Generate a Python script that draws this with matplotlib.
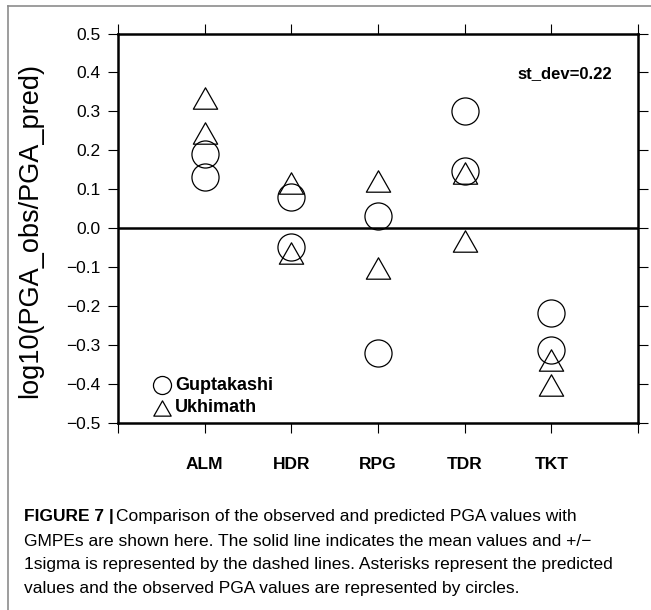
import numpy as np
import matplotlib.pyplot as plt
from matplotlib.path import Path
from matplotlib.lines import Line2D

W, H = 651, 610
DPI = 100

stations = ['ALM', 'HDR', 'RPG', 'TDR', 'TKT']
# log10(PGA_obs/PGA_pred), two events per station
gupta = [[0.191, 0.131], [0.081, -0.047], [0.032, -0.320], [0.302, 0.146], [-0.218, -0.312]]
ukhi = [[0.334, 0.244], [0.116, -0.063], [0.122, -0.103], [0.141, -0.032], [-0.339, -0.403]]
st_dev = 0.22

yticks = [-0.5, -0.4, -0.3, -0.2, -0.1, 0.0, 0.1, 0.2, 0.3, 0.4, 0.5]

caption = [
    'Comparison of the observed and predicted PGA values with',
    'GMPEs are shown here. The solid line indicates the mean values and +/\u2212',
    '1sigma is represented by the dashed lines. Asterisks represent the predicted',
    'values and the observed PGA values are represented by circles.',
]

plt.rcParams['font.family'] = ['Liberation Sans', 'DejaVu Sans']

# slightly flattened triangle
tri = Path([(-1, -0.88), (1, -0.88), (0, 0.88), (-1, -0.88)],
           [Path.MOVETO, Path.LINETO, Path.LINETO, Path.CLOSEPOLY])

fig = plt.figure(figsize=(W / DPI, H / DPI), dpi=DPI)
ax = fig.add_axes([118 / W, 1 - 423 / H, (638 - 118) / W, (423 - 33.5) / H])

for i, st in enumerate(stations):
    x = i + 1
    ax.plot([x] * len(ukhi[i]), ukhi[i], ls='none', marker=tri, ms=17.5,
            mfc='none', mec='black', mew=0.9)
    ax.plot([x] * len(gupta[i]), gupta[i], ls='none', marker='o', ms=19.5,
            mfc='none', mec='black', mew=0.9)

ax.axhline(0.0, color='black', lw=1.8)

ax.set_xlim(0, 6)
ax.set_ylim(-0.5, 0.5)
ax.set_xticks(range(7))
ax.set_xticklabels([''] + stations + [''], fontsize=12.5, fontweight='bold')
ax.set_yticks(yticks)
ax.set_yticklabels(['\u2212%.1f' % -v if v < 0 else '%.1f' % v for v in yticks],
                   fontsize=12.5)
ax.tick_params(direction='out', length=7.5, width=0.8, top=True, right=True)
ax.tick_params(axis='x', pad=17)
ax.tick_params(axis='y', pad=5)
for s in ax.spines.values():
    s.set_linewidth(1.8)

fig.text(30 / W, 1 - 230 / H, 'log10(PGA_obs/PGA_pred)', rotation=90,
         ha='center', va='center', fontsize=19.5)

ax.text(5.7, 0.398, 'st_dev=%.2f' % st_dev, ha='right', va='center',
        fontsize=12, fontweight='bold')

# legend
ax.plot([(162 - 118) / 520], [(423 - 385) / 389.5], transform=ax.transAxes,
        marker='o', ms=13, mfc='none', mec='black', mew=0.9, clip_on=False)
ax.plot([(162 - 118) / 520], [(423 - 408) / 389.5], transform=ax.transAxes,
        marker=tri, ms=12.5, mfc='none', mec='black', mew=0.9, clip_on=False)
ax.text((175 - 118) / 520, (423 - 385) / 389.5, 'Guptakashi', transform=ax.transAxes,
        ha='left', va='center', fontsize=13, fontweight='bold')
ax.text((175 - 118) / 520, (423 - 408) / 389.5, 'Ukhimath', transform=ax.transAxes,
        ha='left', va='center', fontsize=13, fontweight='bold')

# frame around the figure block
fig.add_artist(Line2D([8 / W, 8 / W], [0, 1 - 6 / H], color='#8c8c8c', lw=1.2))
fig.add_artist(Line2D([8 / W, 1], [1 - 6 / H, 1 - 6 / H], color='#8c8c8c', lw=1.2))

cap_font = ['Liberation Sans Narrow', 'Liberation Sans']
ys = [517, 541, 565, 589]
t = fig.text(24 / W, 1 - ys[0] / H, 'FIGURE 7 |', family=cap_font, fontweight='bold',
             fontsize=12.5, va='center', ha='left')
fig.canvas.draw()
bb = t.get_window_extent()
fig.text((bb.x1 + 2) / W, 1 - ys[0] / H, caption[0], family=cap_font,
         fontsize=12.5, va='center', ha='left')
for y, line in zip(ys[1:], caption[1:]):
    fig.text(24 / W, 1 - y / H, line, family=cap_font, fontsize=12.5,
             va='center', ha='left')

fig.savefig('out.png', dpi=DPI)
